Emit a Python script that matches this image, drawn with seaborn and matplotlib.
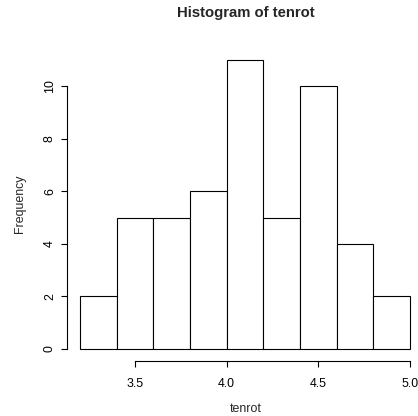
import matplotlib
matplotlib.use("Agg")
import matplotlib.pyplot as plt
import seaborn as sns
import numpy as np

# Data
bin_edges = [3.2, 3.4, 3.6, 3.8, 4.0, 4.2, 4.4, 4.6, 4.8, 5.0]
counts = [2, 5, 5, 6, 11, 5, 10, 4, 2]
xticks = [3.5, 4.0, 4.5, 5.0]
xticklabels = ["3.5", "4.0", "4.5", "5.0"]
yticks = [0, 2, 4, 6, 8, 10]

centers = [(a + b) / 2 for a, b in zip(bin_edges[:-1], bin_edges[1:])]

sns.set_style("white")
plt.rcParams['font.family'] = ['Liberation Sans', 'DejaVu Sans']

W, H = 418, 416
fig = plt.figure(figsize=(W / 100, H / 100), dpi=100)
L, T, B, R = 66.8, 48.1, 360.6, 418.0
ax = fig.add_axes([L / W, (H - B) / H, (R - L) / W, (B - T) / H])

sns.histplot(x=centers, weights=counts, bins=bin_edges, ax=ax,
             color="white", edgecolor="black", linewidth=0.8, alpha=1.0)

xmin = 3.2 - 0.04 * 1.8
px_per_unit = (410 - 135) / 1.5
ax.set_xlim(xmin, xmin + (R - L) / px_per_unit)
ax.set_ylim(-0.44, 11.44)

for s in ["top", "right"]:
    ax.spines[s].set_visible(False)
for s in ["left", "bottom"]:
    ax.spines[s].set_color("black")
    ax.spines[s].set_linewidth(0.8)
ax.spines["bottom"].set_bounds(3.5, 5.0)
ax.spines["left"].set_bounds(0, 10)

ax.set_xticks(xticks)
ax.set_xticklabels(xticklabels)
ax.set_yticks(yticks)
ax.set_yticklabels([str(v) for v in yticks], rotation=90, va="center")
ax.tick_params(axis="both", direction="out", length=4.3, width=0.8,
               color="black", labelsize=8.9, labelcolor="black",
               bottom=True, left=True)
ax.tick_params(axis="x", pad=8.5)
ax.tick_params(axis="y", pad=3.5)

ax.set_xlabel("tenrot", fontsize=8.9, va="center")
ax.xaxis.set_label_coords((245.6 - L) / (R - L), (B - 409) / (B - T))
ax.set_ylabel("Frequency", fontsize=8.9, va="center")
ax.yaxis.set_label_coords((20 - L) / (R - L), (B - 204) / (B - T))
ax.set_title("Histogram of tenrot", fontsize=10.7, fontweight="bold",
             y=(B - 21) / (B - T), va="center", x=(245.6 - L) / (R - L))

fig.savefig("out.png", dpi=100, facecolor="white")
